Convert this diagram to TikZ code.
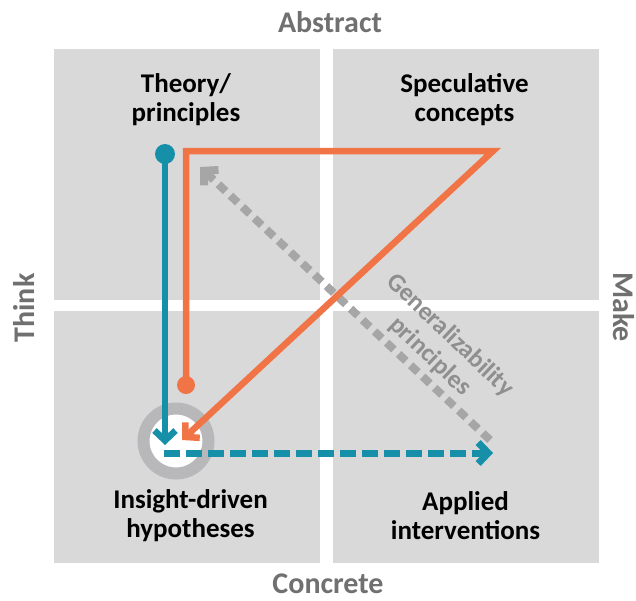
\documentclass[tikz,border=0pt]{standalone}
\usepackage{fontspec}
\setmainfont{Carlito}
\usetikzlibrary{arrows.meta}
\definecolor{quadbg}{HTML}{D9D9D9}
\definecolor{tealc}{HTML}{1690A8}
\definecolor{orangec}{HTML}{F07446}
\definecolor{dashgray}{HTML}{A6A6A6}
\definecolor{axisgray}{HTML}{707070}
\definecolor{gentext}{HTML}{8F8F8F}
\definecolor{ringgray}{HTML}{B8B8BA}
\begin{document}
\begin{tikzpicture}[x=1pt,y=-1pt,
  quad/.style={fill=quadbg},
  qlabel/.style={font=\bfseries\fontsize{27}{29}\selectfont, align=center, inner sep=0pt},
  axislabel/.style={font=\bfseries\fontsize{30}{32}\selectfont, text=axisgray, inner sep=0pt},
  genlabel/.style={font=\bfseries\fontsize{25.5}{29}\selectfont, text=gentext, align=center, inner sep=0pt},
  tealline/.style={draw=tealc, line width=6.5pt},
  orangeline/.style={draw=orangec, line width=6.5pt, line join=miter},
  chev/.style={-{Straight Barb[length=10pt,width=21pt]}},
]
\useasboundingbox (0,0) rectangle (636,600);
\fill[white] (0,0) rectangle (636,600);
% quadrants
\fill[quad] (54,49) rectangle (320,300);
\fill[quad] (333,49) rectangle (599,300);
\fill[quad] (54,311) rectangle (320,563);
\fill[quad] (333,311) rectangle (599,563);
% axis labels
\node[axislabel, anchor=base] (abstract) at (330,32) {Abstract};
\node[axislabel, anchor=base] (concrete) at (328,593) {Concrete};
\node[axislabel, rotate=90] (think) at (24,308) {Think};
\node[axislabel, rotate=-90] (make) at (624,307) {Make};
% quadrant labels
\node[qlabel] (theory) at (186,100) {Theory/\\principles};
\node[qlabel] (spec) at (464.5,100) {Speculative\\concepts};
\node[qlabel] (insight) at (190.5,515.5) {Insight-driven\\hypotheses};
\node[qlabel] (applied) at (465.5,515.5) {Applied\\interventions};
% generalizability
\node[genlabel, rotate=-43.5] (gen) at (440,346) {Generalizability\\principles};
% coordinates
\coordinate (gstart) at (490,440);
\coordinate (gend) at (200,167);
\coordinate (tstart) at (165,154);
\coordinate (tend) at (165,445);
\coordinate (ostart) at (186,385);
\coordinate (oc1) at (186,151);
\coordinate (oc2) at (493,151);
\coordinate (oend) at (182,440);
\coordinate (dstart) at (164,453);
\coordinate (dend) at (493,453);
% gray dashed
\draw[dashgray, line width=8pt, dash pattern=on 10pt off 6.5pt, chev] (gstart) -- (gend);
% hub ring
\node[circle, draw=ringgray, line width=12pt, fill=white, minimum size=65pt, inner sep=0pt] (hub) at (176,441) {};
% teal
\draw[tealline, chev] (tstart) -- (tend);
\fill[tealc] (tstart) circle[radius=10];
\draw[tealc, line width=7pt, dash pattern=on 16pt off 6pt, chev] (dstart) -- (dend);
% orange
\draw[orangeline, chev] (ostart) -- (oc1) -- (oc2) -- (oend);
\fill[orangec] (ostart) circle[radius=9];
\end{tikzpicture}
\end{document}
